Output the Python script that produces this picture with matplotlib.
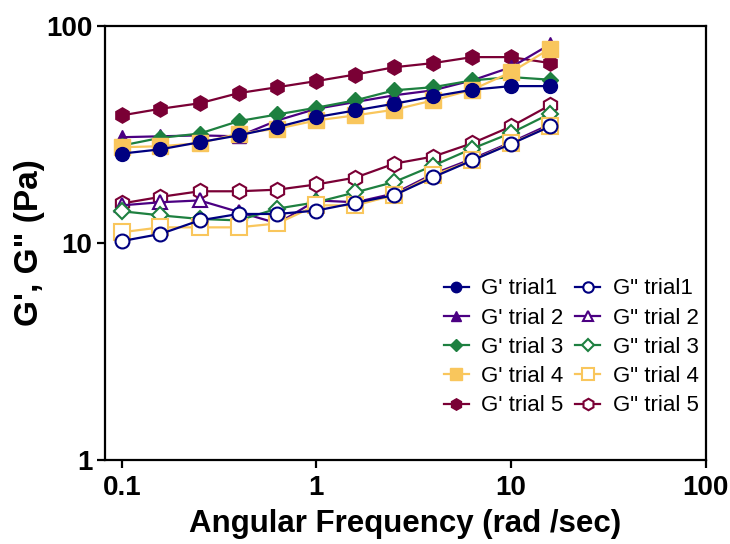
import matplotlib.pyplot as plt
from matplotlib.ticker import FixedLocator, FixedFormatter, NullLocator

plt.rcParams["font.family"] = ["Liberation Sans", "DejaVu Sans"]

freq = [0.1, 0.158, 0.251, 0.398, 0.631, 1.0, 1.585, 2.512, 3.981, 6.31, 10.0, 15.85]

g1_storage = [25.8, 27.0, 29.1, 31.3, 34.2, 38.0, 40.8, 43.8, 47.3, 50.8, 52.8, 52.8]
g2_storage = [30.7, 31.0, 31.3, 31.0, 36.7, 41.5, 44.6, 47.9, 50.5, 56.1, 64.5, 82.2]
g3_storage = [28.1, 30.5, 31.9, 36.4, 39.1, 42.0, 45.4, 50.5, 52.2, 56.1, 58.1, 56.5]
g4_storage = [27.6, 27.9, 28.8, 31.9, 33.6, 36.7, 38.7, 41.1, 45.4, 50.8, 61.2, 78.5]
g5_storage = [38.7, 41.5, 44.0, 49.0, 52.2, 55.7, 59.7, 64.5, 67.4, 71.8, 71.8, 67.4]

g1_loss = [10.2, 11.0, 12.7, 13.6, 13.6, 14.1, 15.3, 16.6, 20.1, 24.0, 28.6, 34.4]
g2_loss = [14.9, 15.4, 15.7, 13.9, 12.3, 15.7, 15.4, 16.9, 20.8, 24.4, 29.1, 35.2]
g3_loss = [14.0, 13.4, 12.9, 12.7, 14.4, 15.4, 17.1, 19.1, 22.7, 27.2, 32.1, 39.4]
g4_loss = [11.2, 11.8, 11.8, 11.8, 12.3, 14.9, 14.9, 16.6, 20.5, 24.0, 28.8, 34.4]
g5_loss = [15.2, 16.3, 17.3, 17.3, 17.6, 18.6, 20.0, 23.2, 25.0, 28.8, 34.4, 43.1]

trial_names = ["trial1", "trial 2", "trial 3", "trial 4", "trial 5"]
colors = ["#000080", "#4B0082", "#1E8040", "#F9C65C", "#7A0035"]
markers = ["o", "^", "D", "s", "h"]
msizes = [10, 10, 8, 11, 11]

storage = [g1_storage, g2_storage, g3_storage, g4_storage, g5_storage]
loss = [g1_loss, g2_loss, g3_loss, g4_loss, g5_loss]

fig = plt.figure(figsize=(7.3, 5.44), dpi=100)
ax = fig.add_axes([0.1438, 0.1544, 0.823, 0.798])

draw_order = [4, 1, 2, 3, 0]
handles = {}
for i in draw_order:
    h, = ax.plot(freq, storage[i], color=colors[i], marker=markers[i],
                 markersize=msizes[i], markerfacecolor=colors[i],
                 markeredgecolor=colors[i], linewidth=1.6,
                 label="G' " + trial_names[i])
    handles[("s", i)] = h
for i in draw_order:
    h, = ax.plot(freq, loss[i], color=colors[i], marker=markers[i],
                 markersize=msizes[i], markerfacecolor="white",
                 markeredgecolor=colors[i], markeredgewidth=1.5,
                 linewidth=1.6, label='G" ' + trial_names[i])
    handles[("l", i)] = h

ax.set_xscale("log")
ax.set_yscale("log")
ax.set_xlim(0.082, 100)
ax.set_ylim(1, 100)

ax.xaxis.set_major_locator(FixedLocator([0.1, 1, 10, 100]))
ax.xaxis.set_major_formatter(FixedFormatter(["0.1", "1", "10", "100"]))
ax.yaxis.set_major_locator(FixedLocator([1, 10, 100]))
ax.yaxis.set_major_formatter(FixedFormatter(["1", "10", "100"]))
ax.xaxis.set_minor_locator(NullLocator())
ax.yaxis.set_minor_locator(NullLocator())

for sp in ax.spines.values():
    sp.set_linewidth(1.6)
ax.tick_params(axis="both", which="major", direction="out", length=6,
               width=1.6, labelsize=20, pad=3)
ax.tick_params(axis="x", pad=5)
for lab in ax.get_xticklabels() + ax.get_yticklabels():
    lab.set_fontweight("bold")

ax.set_xlabel("Angular Frequency (rad /sec)", fontsize=22.5, fontweight="bold",
              labelpad=5.5)
ax.set_ylabel('G\', G" (Pa)', fontsize=24, fontweight="bold", labelpad=1)

leg_handles = [handles[("s", i)] for i in range(5)] + [handles[("l", i)] for i in range(5)]
ax.legend(handles=leg_handles, ncol=2, frameon=False, fontsize=16,
          loc="lower right", bbox_to_anchor=(1.01, 0.07), handlelength=1.15,
          handletextpad=0.55, columnspacing=0.5, labelspacing=0.37,
          markerscale=0.75, borderaxespad=0.2)

fig.savefig("out.png", dpi=100)
